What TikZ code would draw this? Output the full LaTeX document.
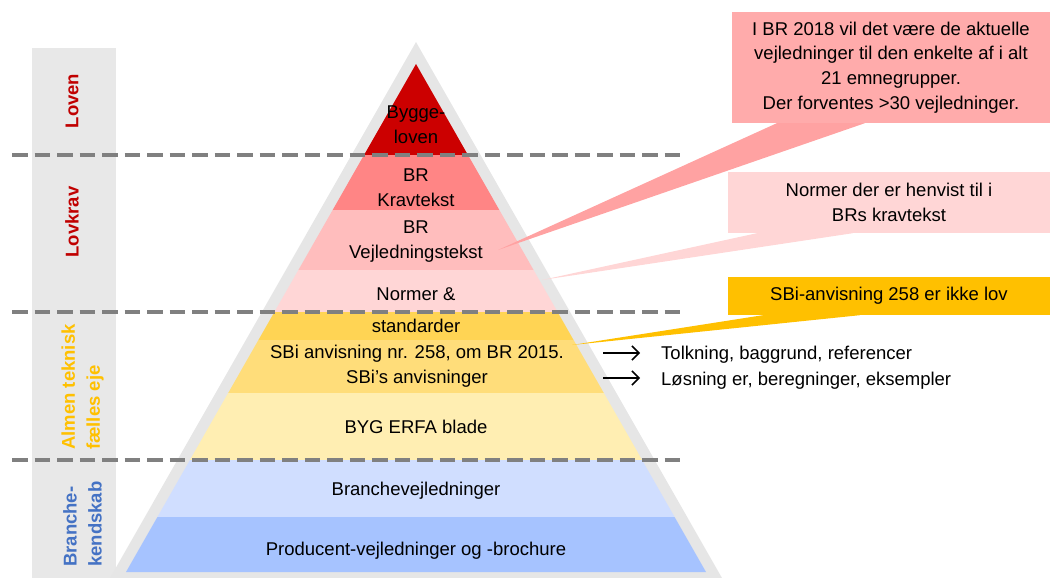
\documentclass[tikz,border=0pt]{standalone}
\usepackage{fontspec}
\setmainfont{Liberation Sans}
\usetikzlibrary{calc,arrows.meta}
\definecolor{sidegray}{RGB}{232,232,232}
\definecolor{pyrgray}{RGB}{230,230,230}
\definecolor{dashgray}{RGB}{128,128,128}
\definecolor{lred}{RGB}{192,0,0}
\definecolor{cRed}{RGB}{204,0,0}
\definecolor{cSalmon}{RGB}{255,133,133}
\definecolor{cPink}{RGB}{255,189,189}
\definecolor{cPale}{RGB}{255,214,214}
\definecolor{cYelA}{RGB}{255,212,84}
\definecolor{cYelB}{RGB}{255,221,122}
\definecolor{cYelC}{RGB}{255,238,178}
\definecolor{cBlueA}{RGB}{208,222,255}
\definecolor{cBlueB}{RGB}{166,195,255}
\definecolor{tOrange}{RGB}{255,192,0}
\definecolor{tBlue}{RGB}{68,114,196}
\definecolor{callA}{RGB}{255,171,171}
\definecolor{callB}{RGB}{255,214,214}
\definecolor{callC}{RGB}{255,192,0}
\tikzset{
  ptxt/.style={font=\fontsize{18.5}{25}\selectfont, align=center, inner sep=0pt, text=black},
  rtxt/.style={font=\fontsize{18.5}{25}\selectfont, inner sep=0pt, text=black},
  sidelbl/.style={font=\bfseries\fontsize{18.5}{25}\selectfont, rotate=90, align=left, inner sep=0pt},
  callbox/.style={font=\fontsize{18.5}{24.7}\selectfont, align=center, inner sep=0pt, text=black},
  dashline/.style={draw=dashgray, line width=4pt, dash pattern=on 15.5pt off 7pt},
  arr/.style={-{Straight Barb[length=7pt,width=14pt]}, line width=1.5pt, black}
}
\begin{document}
\begin{tikzpicture}[x=1pt,y=-1pt]
\useasboundingbox (0,0) rectangle (1050,578);
% sidebar
\fill[sidegray] (32,48) rectangle (116,578);
% outer pyramid
\fill[pyrgray] (416,42) -- (110,578) -- (722,578) -- cycle;
% layers
\begin{scope}
\clip (416,64) -- (126,572) -- (706,572) -- cycle;
\fill[cRed] (100,60) rectangle (740,155);
\fill[cSalmon] (100,155) rectangle (740,210);
\fill[cPink] (100,210) rectangle (740,270);
\fill[cPale] (100,270) rectangle (740,312);
\fill[cYelA] (100,312) rectangle (740,340);
\fill[cYelB] (100,340) rectangle (740,393);
\fill[cYelC] (100,393) rectangle (740,460);
\fill[cBlueA] (100,460) rectangle (740,517);
\fill[cBlueB] (100,517) rectangle (740,580);
\end{scope}
% dashed separators
\foreach \yy in {155,312,460} \draw[dashline] (12,\yy) -- (685,\yy);
% sidebar labels
\node[sidelbl, text=lred] (s1) at (72,101) {Loven};
\node[sidelbl, text=lred] (s2) at (72,222) {Lovkrav};
\node[sidelbl, text=tOrange, anchor=west] (s3) at (82.5,450) {Almen teknisk\\fælles eje};
\node[sidelbl, text=tBlue, anchor=west] (s4) at (82.5,567) {Branche-\\kendskab};
% pyramid texts
\node[ptxt] (t1) at (416,125) {Bygge-\\loven};
\node[ptxt] (t2) at (416,188) {BR\\Kravtekst};
\node[ptxt] (t3) at (416,242) {BR\\Vejledningstekst};
\node[ptxt] (t4) at (416,310) {Normer \&\\[7pt]standarder};
\node[ptxt] (t5) at (417,366) {SBi anvisning nr. 258, om BR 2015.\\SBi’s anvisninger};
\node[ptxt] (t6) at (416,427) {BYG ERFA blade};
\node[ptxt] (t7) at (416,491) {Branchevejledninger};
\node[ptxt] (t8) at (416,551) {Producent-vejledninger og -brochure};
% callouts
\node[callbox, fill=callA, minimum width=318pt, minimum height=111pt] (c1) at (891,67.5)
  {I BR 2018 vil det være de aktuelle\\vejledninger til den enkelte af i alt\\21 emnegrupper.\\Der forventes >30 vejledninger.};
\node[callbox, fill=callB, minimum width=322pt, minimum height=61pt] (c2) at (889,202.5)
  {Normer der er henvist til i\\BRs kravtekst};
\node[callbox, fill=callC, minimum width=322pt, minimum height=38pt] (c3) at (889,296)
  {SBi-anvisning 258 er ikke lov};
\coordinate (p1) at (498,250);
\coordinate (p2) at (542,280);
\coordinate (p3) at (572,345);
\fill[callA!95!red] ($(c1.south west)+(45,0)$) -- ($(c1.south west)+(133,0)$) -- (p1) -- cycle;
\fill[callB] ($(c2.south west)+(29,0)$) -- ($(c2.south west)+(125,0)$) -- (p2) -- cycle;
\fill[callC] ($(c3.south west)+(35,0)$) -- ($(c3.south west)+(132,0)$) -- (p3) -- cycle;
% arrows and notes
\node[rtxt, anchor=west] (r1) at (661,355) {Tolkning, baggrund, referencer};
\node[rtxt, anchor=west] (r2) at (661,381) {Løsning er, beregninger, eksempler};
\coordinate (a1) at (603,353);
\coordinate (a2) at (603,378);
\draw[arr, shorten >=21pt] (a1) -- (a1 -| r1.west);
\draw[arr, shorten >=21pt] (a2) -- (a2 -| r2.west);
\end{tikzpicture}
\end{document}
